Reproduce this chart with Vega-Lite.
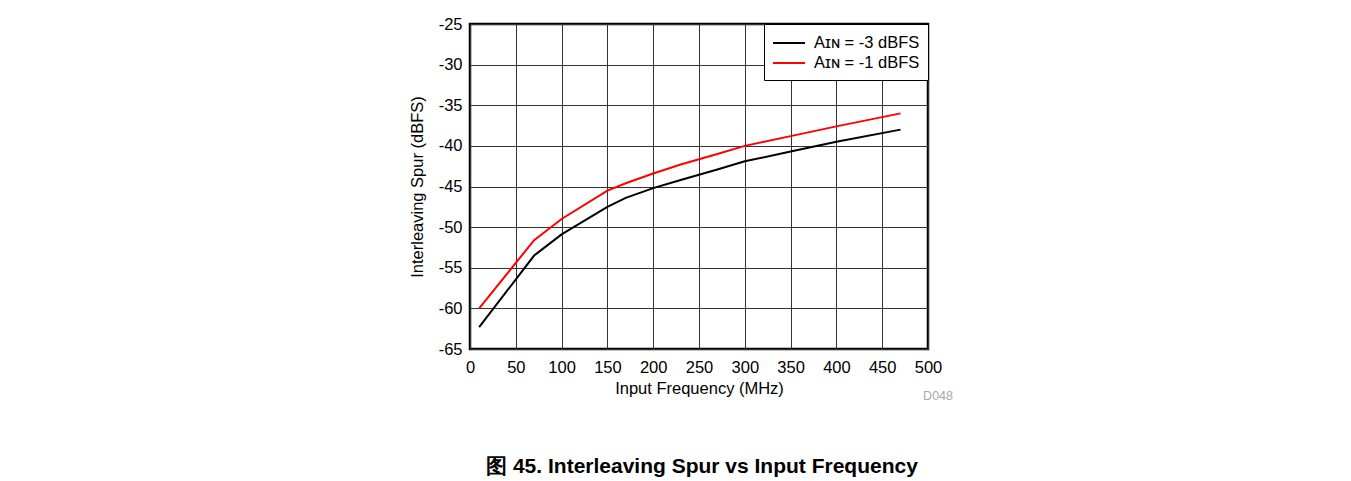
{
  "$schema": "https://vega.github.io/schema/vega-lite/v6.json",
  "autosize": {"type": "none"},
  "width": 458,
  "height": 325,
  "padding": {"left": 470, "top": 24, "right": 423, "bottom": 132},
  "background": "white",
  "config": {
    "font": "Liberation Sans",
    "view": {"stroke": "black", "strokeWidth": 2.5},
    "axis": {
      "labelFont": "Liberation Sans",
      "titleFont": "Liberation Sans",
      "labelFontSize": 16.5,
      "titleFontSize": 16.5,
      "titleFontWeight": "normal",
      "labelColor": "black",
      "titleColor": "black",
      "gridColor": "#333333",
      "gridWidth": 1,
      "gridOpacity": 1,
      "domain": false,
      "ticks": false,
      "labelFlush": false,
      "labelExpr": "'' + datum.value"
    }
  },
  "title": {
    "text": "图 45. Interleaving Spur vs Input Frequency",
    "orient": "bottom",
    "anchor": "middle",
    "font": "Liberation Sans",
    "fontSize": 21,
    "fontWeight": "bold",
    "color": "black",
    "offset": 53,
    "dx": 3
  },
  "layer": [
    {
      "data": {
        "values": [
          {"freq": 10, "spur": -62.3, "series": "Aɪɴ = -3 dBFS"},
          {"freq": 70, "spur": -53.5, "series": "Aɪɴ = -3 dBFS"},
          {"freq": 100, "spur": -50.9, "series": "Aɪɴ = -3 dBFS"},
          {"freq": 150, "spur": -47.5, "series": "Aɪɴ = -3 dBFS"},
          {"freq": 170, "spur": -46.4, "series": "Aɪɴ = -3 dBFS"},
          {"freq": 200, "spur": -45.2, "series": "Aɪɴ = -3 dBFS"},
          {"freq": 230, "spur": -44.2, "series": "Aɪɴ = -3 dBFS"},
          {"freq": 270, "spur": -42.9, "series": "Aɪɴ = -3 dBFS"},
          {"freq": 300, "spur": -41.9, "series": "Aɪɴ = -3 dBFS"},
          {"freq": 350, "spur": -40.7, "series": "Aɪɴ = -3 dBFS"},
          {"freq": 400, "spur": -39.5, "series": "Aɪɴ = -3 dBFS"},
          {"freq": 470, "spur": -38.0, "series": "Aɪɴ = -3 dBFS"},
          {"freq": 10, "spur": -60.0, "series": "Aɪɴ = -1 dBFS"},
          {"freq": 70, "spur": -51.6, "series": "Aɪɴ = -1 dBFS"},
          {"freq": 100, "spur": -49.0, "series": "Aɪɴ = -1 dBFS"},
          {"freq": 150, "spur": -45.5, "series": "Aɪɴ = -1 dBFS"},
          {"freq": 170, "spur": -44.6, "series": "Aɪɴ = -1 dBFS"},
          {"freq": 200, "spur": -43.4, "series": "Aɪɴ = -1 dBFS"},
          {"freq": 230, "spur": -42.3, "series": "Aɪɴ = -1 dBFS"},
          {"freq": 270, "spur": -41.0, "series": "Aɪɴ = -1 dBFS"},
          {"freq": 300, "spur": -40.0, "series": "Aɪɴ = -1 dBFS"},
          {"freq": 350, "spur": -38.8, "series": "Aɪɴ = -1 dBFS"},
          {"freq": 400, "spur": -37.6, "series": "Aɪɴ = -1 dBFS"},
          {"freq": 470, "spur": -36.0, "series": "Aɪɴ = -1 dBFS"}
        ]
      },
      "mark": {"type": "line", "strokeWidth": 2},
      "encoding": {
        "x": {
          "field": "freq", "type": "quantitative",
          "scale": {"domain": [0, 500], "nice": false},
          "axis": {"values": [0,50,100,150,200,250,300,350,400,450,500], "title": "Input Frequency (MHz)", "labelPadding": 10, "titlePadding": 5}
        },
        "y": {
          "field": "spur", "type": "quantitative",
          "scale": {"domain": [-65, -25], "nice": false, "zero": false},
          "axis": {"values": [-65,-60,-55,-50,-45,-40,-35,-30,-25], "title": "Interleaving Spur (dBFS)", "labelPadding": 8, "titlePadding": 13}
        },
        "color": {
          "field": "series", "type": "nominal",
          "scale": {"domain": ["Aɪɴ = -3 dBFS", "Aɪɴ = -1 dBFS"], "range": ["black", "#ff0000"]},
          "legend": {
            "title": null,
            "orient": "top-right",
            "offset": 0,
            "fillColor": "white",
            "strokeColor": "black",
            "padding": 8,
            "symbolType": "M-1.6,0H1.6",
            "symbolSize": 400,
            "symbolStrokeWidth": 2,
            "symbolOffset": 6,
            "labelFont": "Liberation Sans",
            "labelFontSize": 16.5,
            "labelColor": "black",
            "rowPadding": 0,
            "labelOffset": 14
          }
        }
      }
    },
    {
      "data": {"values": [{"label": "D048"}]},
      "mark": {"type": "text", "font": "Liberation Sans", "fontWeight": "normal", "align": "right", "baseline": "middle", "fontSize": 12.5, "color": "#aaaaaa", "dx": 25, "dy": 47},
      "encoding": {
        "text": {"field": "label", "type": "nominal"},
        "x": {"datum": 500, "type": "quantitative"},
        "y": {"datum": -65, "type": "quantitative"}
      }
    }
  ]
}
